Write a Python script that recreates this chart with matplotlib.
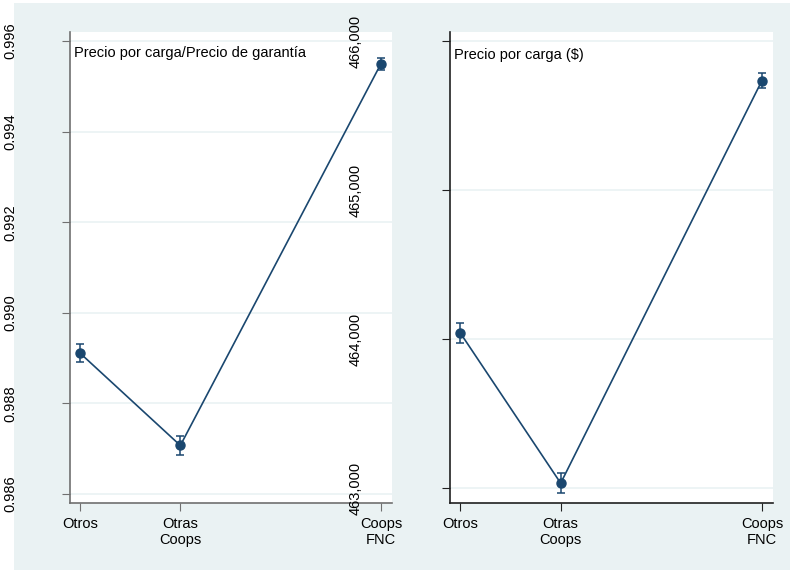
import numpy as np
import matplotlib
matplotlib.use("Agg")
import matplotlib.pyplot as plt
from matplotlib.patches import Rectangle

plt.rcParams['font.family'] = ['Liberation Sans', 'DejaVu Sans']

# categorias y posiciones en el eje x
categorias = ["Otros", "Otras\nCoops", "Coops\nFNC"]
pos_x = [1, 2, 4]

# panel izquierdo: precio por carga / precio de garantia
ratio_media = [0.98911, 0.98707, 0.99550]
ratio_err = [0.00019, 0.00020, 0.00013]
ratio_ticks = [0.986, 0.988, 0.990, 0.992, 0.994, 0.996]

# panel derecho: precio por carga en pesos
precio_media = [464044, 463034, 465734]
precio_err = [67, 69, 48]
precio_ticks = [463000, 464000, 465000, 466000]

azul = '#1a476f'
fondo = '#eaf2f3'

fig = plt.figure(figsize=(7.9, 5.71), dpi=100, facecolor='white')
fig.add_artist(Rectangle((14 / 790, 1 / 571), 776 / 790, 567 / 571,
                         transform=fig.transFigure, facecolor=fondo,
                         edgecolor='none', zorder=-10))

ax1 = fig.add_axes([70 / 790, 68 / 571, 322 / 790, 471 / 571])
ax2 = fig.add_axes([450 / 790, 68 / 571, 323 / 790, 471 / 571])


def dibujar(ax, media, err, ticks, ylim, titulo, fmt, pad, color_eje, ty):
    ax.set_facecolor('white')
    for t in ticks:
        ax.axhline(t, color=fondo, lw=1.2, zorder=1)
    ax.plot(pos_x, media, color=azul, lw=1.2, zorder=3)
    ax.errorbar(pos_x, media, yerr=err, fmt='o', color=azul, ms=6.5,
                elinewidth=1.1, capsize=3, capthick=1.1, zorder=4)
    ax.set_xlim(0.9, 4.11)
    ax.set_ylim(*ylim)
    ax.set_xticks(pos_x)
    ax.set_xticklabels(categorias, fontsize=10.5)
    ax.set_yticks(ticks)
    ax.set_yticklabels([fmt(t) for t in ticks], rotation=90, va='center',
                       fontsize=10.5)
    ax.tick_params(axis='y', length=6, pad=pad, color=color_eje)
    ax.tick_params(axis='x', length=6, pad=4, color=color_eje)
    for lado in ['top', 'right']:
        ax.spines[lado].set_visible(False)
    for lado in ['left', 'bottom']:
        ax.spines[lado].set_color(color_eje)
        ax.spines[lado].set_linewidth(1.2)
    ax.text(0.012, ty, titulo, transform=ax.transAxes, ha='left', va='top',
            fontsize=10.5)


dibujar(ax1, ratio_media, ratio_err, ratio_ticks, (0.9858, 0.9962),
        "Precio por carga/Precio de garantía", lambda t: f"{t:.3f}", 32,
        '#707070', 0.970)
dibujar(ax2, precio_media, precio_err, precio_ticks, (462901, 466060),
        "Precio por carga ($)", lambda t: f"{t:,.0f}", 57, '#202020', 0.965)

fig.savefig("out.png", dpi=100, facecolor=fig.get_facecolor())
